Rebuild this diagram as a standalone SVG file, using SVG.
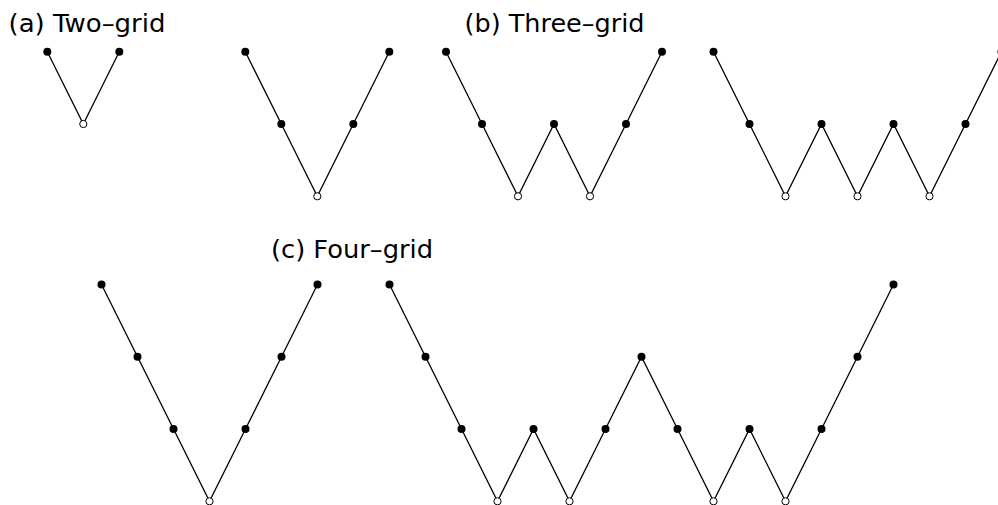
<svg xmlns="http://www.w3.org/2000/svg" width="998" height="505" viewBox="0 0 998 505">
<style>
.lbl{font-family:"DejaVu Sans","Liberation Sans",sans-serif;font-size:24px;fill:#000}
.e{fill:none;stroke:#000;stroke-width:1.3;stroke-linejoin:miter}
.b{fill:#000}
.w{fill:#fff;stroke:#000;stroke-width:1}
</style>
<rect width="998" height="505" fill="#fff"/>
<g id="labels">
<text class="lbl" x="8.5" y="32" textLength="157" lengthAdjust="spacingAndGlyphs">(a) Two–grid</text>
<text class="lbl" x="464.5" y="32" textLength="180" lengthAdjust="spacingAndGlyphs">(b) Three–grid</text>
<text class="lbl" x="271" y="258" textLength="162" lengthAdjust="spacingAndGlyphs">(c) Four–grid</text>
</g>
<g id="connectors">
<polyline class="e" points="47.3,51.7 83.3,124 119.3,51.7"/>
<polyline class="e" points="245.3,51.7 281.3,124 317.3,196.3 353.3,124 389.3,51.7"/>
<polyline class="e" points="446,51.7 482,124 518,196.3 554,124 590,196.3 626,124 662,51.7"/>
<polyline class="e" points="713.5,51.7 749.5,124 785.5,196.3 821.5,124 857.5,196.3 893.5,124 929.5,196.3 965.5,124 1001.5,51.7"/>
<polyline class="e" points="101.5,284.5 137.5,356.8 173.5,429 209.5,501.3 245.5,429 281.5,356.8 317.5,284.5"/>
<polyline class="e" points="389.5,284.5 425.5,356.8 461.5,429 497.5,501.3 533.5,429 569.5,501.3 605.5,429 641.5,356.8 677.5,429 713.5,501.3 749.5,429 785.5,501.3 821.5,429 857.5,356.8 893.5,284.5"/>
</g>
<g id="a1-n1"><circle class="b" cx="47.3" cy="51.7" r="4"/></g>
<g id="a1-n2"><circle class="w" cx="83.3" cy="124" r="3.6"/></g>
<g id="a1-n3"><circle class="b" cx="119.3" cy="51.7" r="4"/></g>
<g id="a2-n1"><circle class="b" cx="245.3" cy="51.7" r="4"/></g>
<g id="a2-n2"><circle class="b" cx="281.3" cy="124" r="4"/></g>
<g id="a2-n3"><circle class="w" cx="317.3" cy="196.3" r="3.6"/></g>
<g id="a2-n4"><circle class="b" cx="353.3" cy="124" r="4"/></g>
<g id="a2-n5"><circle class="b" cx="389.3" cy="51.7" r="4"/></g>
<g id="b1-n1"><circle class="b" cx="446" cy="51.7" r="4"/></g>
<g id="b1-n2"><circle class="b" cx="482" cy="124" r="4"/></g>
<g id="b1-n3"><circle class="w" cx="518" cy="196.3" r="3.6"/></g>
<g id="b1-n4"><circle class="b" cx="554" cy="124" r="4"/></g>
<g id="b1-n5"><circle class="w" cx="590" cy="196.3" r="3.6"/></g>
<g id="b1-n6"><circle class="b" cx="626" cy="124" r="4"/></g>
<g id="b1-n7"><circle class="b" cx="662" cy="51.7" r="4"/></g>
<g id="b2-n1"><circle class="b" cx="713.5" cy="51.7" r="4"/></g>
<g id="b2-n2"><circle class="b" cx="749.5" cy="124" r="4"/></g>
<g id="b2-n3"><circle class="w" cx="785.5" cy="196.3" r="3.6"/></g>
<g id="b2-n4"><circle class="b" cx="821.5" cy="124" r="4"/></g>
<g id="b2-n5"><circle class="w" cx="857.5" cy="196.3" r="3.6"/></g>
<g id="b2-n6"><circle class="b" cx="893.5" cy="124" r="4"/></g>
<g id="b2-n7"><circle class="w" cx="929.5" cy="196.3" r="3.6"/></g>
<g id="b2-n8"><circle class="b" cx="965.5" cy="124" r="4"/></g>
<g id="b2-n9"><circle class="b" cx="1001.5" cy="51.7" r="4"/></g>
<g id="c1-n1"><circle class="b" cx="101.5" cy="284.5" r="4"/></g>
<g id="c1-n2"><circle class="b" cx="137.5" cy="356.8" r="4"/></g>
<g id="c1-n3"><circle class="b" cx="173.5" cy="429" r="4"/></g>
<g id="c1-n4"><circle class="w" cx="209.5" cy="501.3" r="3.6"/></g>
<g id="c1-n5"><circle class="b" cx="245.5" cy="429" r="4"/></g>
<g id="c1-n6"><circle class="b" cx="281.5" cy="356.8" r="4"/></g>
<g id="c1-n7"><circle class="b" cx="317.5" cy="284.5" r="4"/></g>
<g id="c2-n1"><circle class="b" cx="389.5" cy="284.5" r="4"/></g>
<g id="c2-n2"><circle class="b" cx="425.5" cy="356.8" r="4"/></g>
<g id="c2-n3"><circle class="b" cx="461.5" cy="429" r="4"/></g>
<g id="c2-n4"><circle class="w" cx="497.5" cy="501.3" r="3.6"/></g>
<g id="c2-n5"><circle class="b" cx="533.5" cy="429" r="4"/></g>
<g id="c2-n6"><circle class="w" cx="569.5" cy="501.3" r="3.6"/></g>
<g id="c2-n7"><circle class="b" cx="605.5" cy="429" r="4"/></g>
<g id="c2-n8"><circle class="b" cx="641.5" cy="356.8" r="4"/></g>
<g id="c2-n9"><circle class="b" cx="677.5" cy="429" r="4"/></g>
<g id="c2-n10"><circle class="w" cx="713.5" cy="501.3" r="3.6"/></g>
<g id="c2-n11"><circle class="b" cx="749.5" cy="429" r="4"/></g>
<g id="c2-n12"><circle class="w" cx="785.5" cy="501.3" r="3.6"/></g>
<g id="c2-n13"><circle class="b" cx="821.5" cy="429" r="4"/></g>
<g id="c2-n14"><circle class="b" cx="857.5" cy="356.8" r="4"/></g>
<g id="c2-n15"><circle class="b" cx="893.5" cy="284.5" r="4"/></g>
</svg>
